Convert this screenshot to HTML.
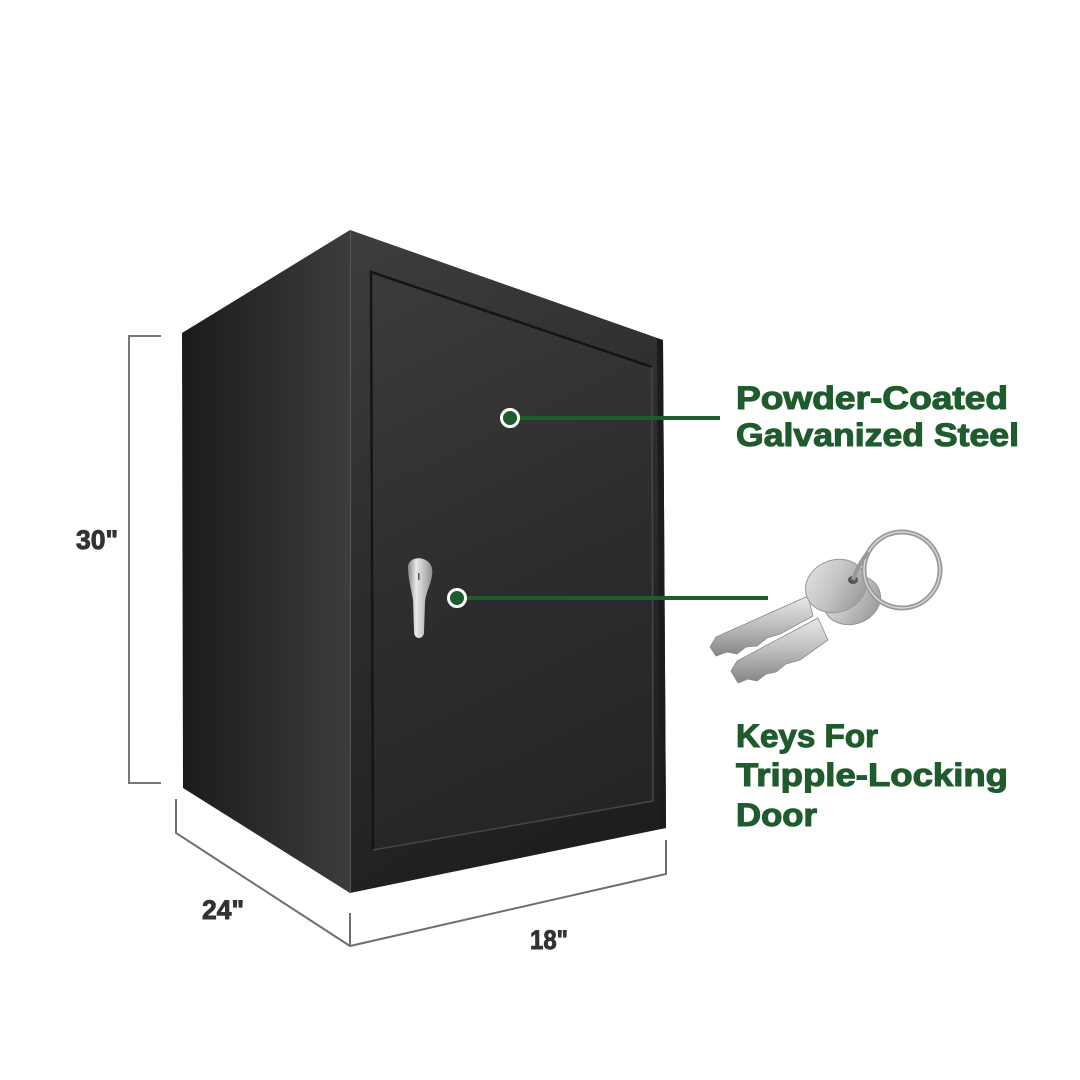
<!DOCTYPE html>
<html>
<head>
<meta charset="utf-8">
<style>
  html,body{margin:0;padding:0;background:#fff;}
  svg{display:block;}
  .g{font-family:"Liberation Sans",Arial,sans-serif;font-weight:bold;fill:#1e5b2d;stroke:#1e5b2d;stroke-width:1.1px;font-size:32px;}
  .d{font-family:"Liberation Sans",Arial,sans-serif;font-weight:bold;fill:#333;stroke:#333;stroke-width:0.9px;font-size:27px;}
</style>
</head>
<body>
<svg width="1080" height="1080" viewBox="0 0 1080 1080" xmlns="http://www.w3.org/2000/svg">
  <defs>
    <linearGradient id="side" x1="182" y1="0" x2="350" y2="0" gradientUnits="userSpaceOnUse">
      <stop offset="0" stop-color="#1b1b1b"/>
      <stop offset="1" stop-color="#3c3c3c"/>
    </linearGradient>
    <linearGradient id="front" x1="350" y1="230" x2="666" y2="828" gradientUnits="userSpaceOnUse">
      <stop offset="0" stop-color="#3d3d3d"/>
      <stop offset="0.5" stop-color="#2c2c2c"/>
      <stop offset="1" stop-color="#1d1d1d"/>
    </linearGradient>
    <linearGradient id="door" x1="372" y1="272" x2="653" y2="850" gradientUnits="userSpaceOnUse">
      <stop offset="0" stop-color="#3b3b3b"/>
      <stop offset="0.55" stop-color="#2c2c2c"/>
      <stop offset="1" stop-color="#232323"/>
    </linearGradient>
    <linearGradient id="handle" x1="407" y1="0" x2="433" y2="0" gradientUnits="userSpaceOnUse">
      <stop offset="0" stop-color="#7a7a7a"/>
      <stop offset="0.35" stop-color="#e8e8e8"/>
      <stop offset="0.6" stop-color="#c8c8c8"/>
      <stop offset="1" stop-color="#8a8a8a"/>
    </linearGradient>
    <linearGradient id="metal" x1="0" y1="0" x2="1" y2="1">
      <stop offset="0" stop-color="#e6e6e6"/>
      <stop offset="0.5" stop-color="#c2c2c2"/>
      <stop offset="1" stop-color="#8e8e8e"/>
    </linearGradient>
    <linearGradient id="blade" x1="0" y1="0" x2="0" y2="1">
      <stop offset="0" stop-color="#e8e8e8"/>
      <stop offset="0.5" stop-color="#bdbdbd"/>
      <stop offset="1" stop-color="#858585"/>
    </linearGradient>
  </defs>

  <!-- cabinet side -->
  <polygon points="182,333 350,230 350,893 183,788" fill="url(#side)"/>
  <!-- cabinet front frame -->
  <polygon points="350,230 663,340 666,828 350,893" fill="url(#front)"/>
  <line x1="350.5" y1="231" x2="350.5" y2="892" stroke="#575757" stroke-width="1"/>
  <!-- right dark edge -->
  <polygon points="657,338 663,340 666,828 660,829" fill="#1c1c1c"/>
  <!-- door -->
  <polygon points="371,272 652,367 653,801 373,850" fill="url(#door)"/>
  <polyline points="373,850 371,272 652,367" fill="none" stroke="#151515" stroke-width="2.5"/>
  <polyline points="652,367 653,801 373,850" fill="none" stroke="#474747" stroke-width="1.5"/>

  <!-- handle -->
  <path d="M408,568 C407,556 428,554 432,568 C434,580 426,590 425,602 L424,632 C424,640 414,640 414,632 L413,600 C411,588 408,578 408,568 Z" fill="url(#handle)"/>
  <rect x="418" y="573" width="1.5" height="7" fill="#555"/>

  <!-- connectors -->
  <line x1="510" y1="418" x2="720" y2="418" stroke="#1e5b2d" stroke-width="4"/>
  <circle cx="510" cy="418" r="8.5" fill="#1e5b2d" stroke="#fff" stroke-width="3"/>
  <line x1="457" y1="598" x2="768" y2="598" stroke="#1e5b2d" stroke-width="4"/>
  <circle cx="457" cy="598" r="8.5" fill="#1e5b2d" stroke="#fff" stroke-width="3"/>

  <!-- dimension lines -->
  <polyline points="161,336 129,336 129,783 161,783" fill="none" stroke="#777" stroke-width="2"/>
  <polyline points="176,799 176,833 350,946 666,874 666,840" fill="none" stroke="#6f6f6f" stroke-width="2"/>
  <line x1="350" y1="913" x2="350" y2="946" stroke="#6f6f6f" stroke-width="2"/>

  <!-- keys -->
  <g>
    <!-- back key blade -->
    <polygon points="818,618 737,661 731,671 738,683 748,679 757,681 766,674 776,672 786,664 800,660 828,640" fill="url(#blade)" stroke="#8a8a8a" stroke-width="0.8"/>
    <!-- back key head -->
    <ellipse cx="852" cy="600" rx="29" ry="24" transform="rotate(-20 852 600)" fill="url(#metal)" stroke="#909090" stroke-width="1"/>
    <!-- front key blade -->
    <polygon points="808,596 716,637 710,647 716,656 727,652 737,654 746,647 757,646 767,638 780,634 813,616" fill="url(#blade)" stroke="#8a8a8a" stroke-width="0.8"/>
    <!-- front key head -->
    <ellipse cx="836" cy="586" rx="31" ry="26" transform="rotate(-20 836 586)" fill="url(#metal)" stroke="#999" stroke-width="1"/>
    <ellipse cx="853" cy="580" rx="5" ry="4" fill="#555"/>
    <!-- ring -->
    <circle cx="902" cy="570" r="38" fill="none" stroke="#9a9a9a" stroke-width="5"/>
    <circle cx="902" cy="570" r="38" fill="none" stroke="#d8d8d8" stroke-width="1.5"/>
    <path d="M853,580 C856,570 862,560 868,552" fill="none" stroke="#999" stroke-width="4"/>
  </g>

  <!-- labels -->
  <text class="g" x="736" y="409" textLength="272" lengthAdjust="spacingAndGlyphs">Powder-Coated</text>
  <text class="g" x="736" y="446" textLength="283" lengthAdjust="spacingAndGlyphs">Galvanized Steel</text>
  <text class="g" x="736" y="747" textLength="142" lengthAdjust="spacingAndGlyphs">Keys For</text>
  <text class="g" x="736" y="786" textLength="272" lengthAdjust="spacingAndGlyphs">Tripple-Locking</text>
  <text class="g" x="736" y="826" textLength="81" lengthAdjust="spacingAndGlyphs">Door</text>

  <text class="d" x="76" y="549" textLength="42" lengthAdjust="spacingAndGlyphs">30"</text>
  <text class="d" x="202" y="919" textLength="42" lengthAdjust="spacingAndGlyphs">24"</text>
  <text class="d" x="530" y="949" textLength="38" lengthAdjust="spacingAndGlyphs">18"</text>
</svg>
</body>
</html>
